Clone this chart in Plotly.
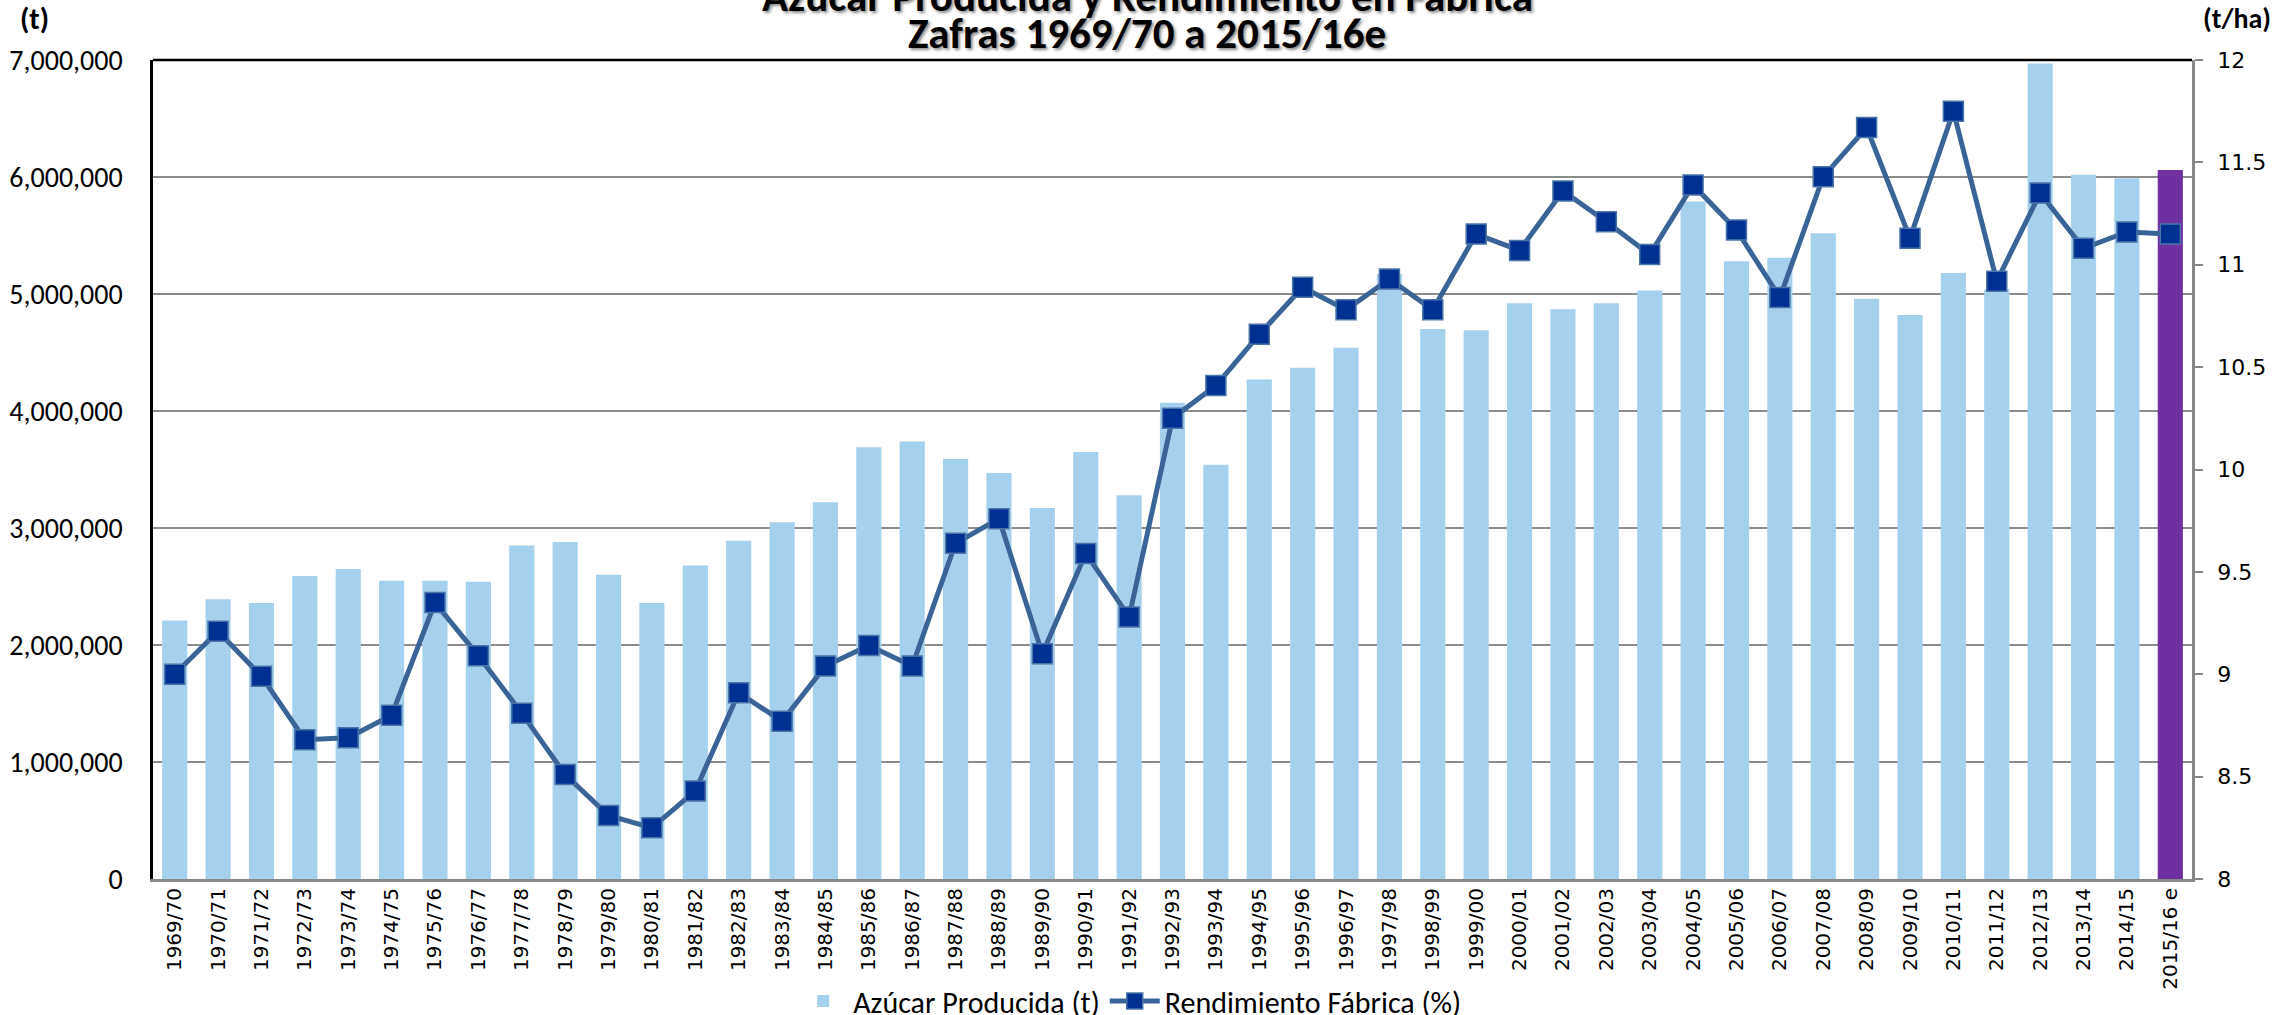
import plotly.graph_objects as go

zafras = ["1969/70", "1970/71", "1971/72", "1972/73", "1973/74", "1974/75", "1975/76",
          "1976/77", "1977/78", "1978/79", "1979/80", "1980/81", "1981/82", "1982/83",
          "1983/84", "1984/85", "1985/86", "1986/87", "1987/88", "1988/89", "1989/90",
          "1990/91", "1991/92", "1992/93", "1993/94", "1994/95", "1995/96", "1996/97",
          "1997/98", "1998/99", "1999/00", "2000/01", "2001/02", "2002/03", "2003/04",
          "2004/05", "2005/06", "2006/07", "2007/08", "2008/09", "2009/10", "2010/11",
          "2011/12", "2012/13", "2013/14", "2014/15", "2015/16 e"]

azucar_t = [2210000, 2390000, 2360000, 2590000, 2650000, 2550000, 2550000,
            2540000, 2850000, 2880000, 2600000, 2360000, 2680000, 2890000,
            3050000, 3220000, 3690000, 3740000, 3590000, 3470000, 3170000,
            3650000, 3280000, 4070000, 3540000, 4270000, 4370000, 4540000,
            5170000, 4700000, 4690000, 4920000, 4870000, 4920000, 5030000,
            5790000, 5280000, 5310000, 5520000, 4960000, 4820000, 5180000,
            5040000, 6970000, 6020000, 5990000, 6060000]

rendimiento = [9.00, 9.21, 8.99, 8.68, 8.69, 8.80, 9.35,
               9.09, 8.81, 8.51, 8.31, 8.25, 8.43, 8.91,
               8.77, 9.04, 9.14, 9.04, 9.64, 9.76, 9.10,
               9.59, 9.28, 10.25, 10.41, 10.66, 10.89, 10.78,
               10.93, 10.78, 11.15, 11.07, 11.36, 11.21, 11.05,
               11.39, 11.17, 10.84, 11.43, 11.67, 11.13, 11.75,
               10.92, 11.35, 11.08, 11.16, 11.15]

titulo_1 = "Azúcar Producida y Rendimiento en Fábrica"
titulo_2 = "Zafras 1969/70 a 2015/16e"

CAL = "Carlito, 'Liberation Sans Narrow', 'Arial Narrow', sans-serif"
VER = "'DejaVu Sans', Verdana, sans-serif"

bar_colors = ["#A6D1EE"] * (len(zafras) - 1) + ["#7030A0"]

fig = go.Figure()
fig.add_trace(go.Bar(
    x=zafras, y=azucar_t, name="Azúcar Producida (t)",
    marker=dict(color=bar_colors, line=dict(width=0)),
    yaxis="y",
))
fig.add_trace(go.Scatter(
    x=zafras, y=rendimiento, name="Rendimiento Fábrica (%)",
    mode="lines+markers", yaxis="y2",
    line=dict(color="#3A6498", width=5),
    marker=dict(symbol="square", size=20, color="#003092",
                line=dict(color="#4A74A8", width=1.5)),
))

fig.update_layout(
    width=2279, height=1015,
    margin=dict(l=153, r=87, t=60, b=136, autoexpand=False),
    plot_bgcolor="white", paper_bgcolor="white",
    bargap=0.42,
    showlegend=True,
    legend=dict(orientation="h", x=0.479, xanchor="center", y=-0.149, yanchor="middle",
                font=dict(family=CAL, size=30, color="black"),
                itemwidth=50, traceorder="normal"),
    xaxis=dict(type="category", tickangle=-90, automargin=False,
               range=[-0.5, len(zafras) - 0.5],
               tickfont=dict(family=VER, size=20, color="black"),
               showline=True, linecolor="#888888", linewidth=3,
               showgrid=False, ticks="", ticklabelstandoff=-2),
    yaxis=dict(range=[0, 7000000], dtick=1000000, tickformat=",", automargin=False,
               tickfont=dict(family=CAL, size=28, color="black"),
               showline=True, linecolor="black", linewidth=2.5,
               showgrid=True, gridcolor="#8C8C8C", gridwidth=2,
               zeroline=False, ticks="", ticklabelstandoff=22),
    yaxis2=dict(range=[8, 12], dtick=0.5, overlaying="y", side="right", automargin=False,
                tickfont=dict(family=VER, size=22, color="black"),
                showline=True, linecolor="#888888", linewidth=2.5,
                showgrid=False, zeroline=False,
                ticks="outside", ticklen=8, tickcolor="#888888", tickwidth=2,
                ticklabelstandoff=10),
    shapes=[dict(type="line", xref="paper", yref="paper", x0=0, x1=1, y0=1, y1=1,
                 line=dict(color="black", width=2.5))],
    annotations=[
        dict(text="<b>" + titulo_1 + "</b>", xref="paper", yref="paper",
             x=0.4875, y=1.078, xanchor="center", yanchor="middle", showarrow=False,
             font=dict(family=CAL, size=43, color="black",
                       shadow="2px 2px 3px rgba(0,0,0,0.45)")),
        dict(text="<b>" + titulo_2 + "</b>", xref="paper", yref="paper",
             x=0.4875, y=1.032, xanchor="center", yanchor="middle", showarrow=False,
             font=dict(family=CAL, size=43, color="black",
                       shadow="2px 2px 3px rgba(0,0,0,0.45)")),
        dict(text="<b>(t)</b>", xref="paper", yref="paper",
             x=-0.058, y=1.051, xanchor="center", yanchor="middle", showarrow=False,
             font=dict(family=CAL, size=30, color="black")),
        dict(text="<b>(t/ha)</b>", xref="paper", yref="paper",
             x=1.022, y=1.051, xanchor="center", yanchor="middle", showarrow=False,
             font=dict(family=CAL, size=28, color="black")),
    ],
)

fig.write_html("out.html", config={"displayModeBar": False},
               post_script="document.body.style.margin='0px';")
